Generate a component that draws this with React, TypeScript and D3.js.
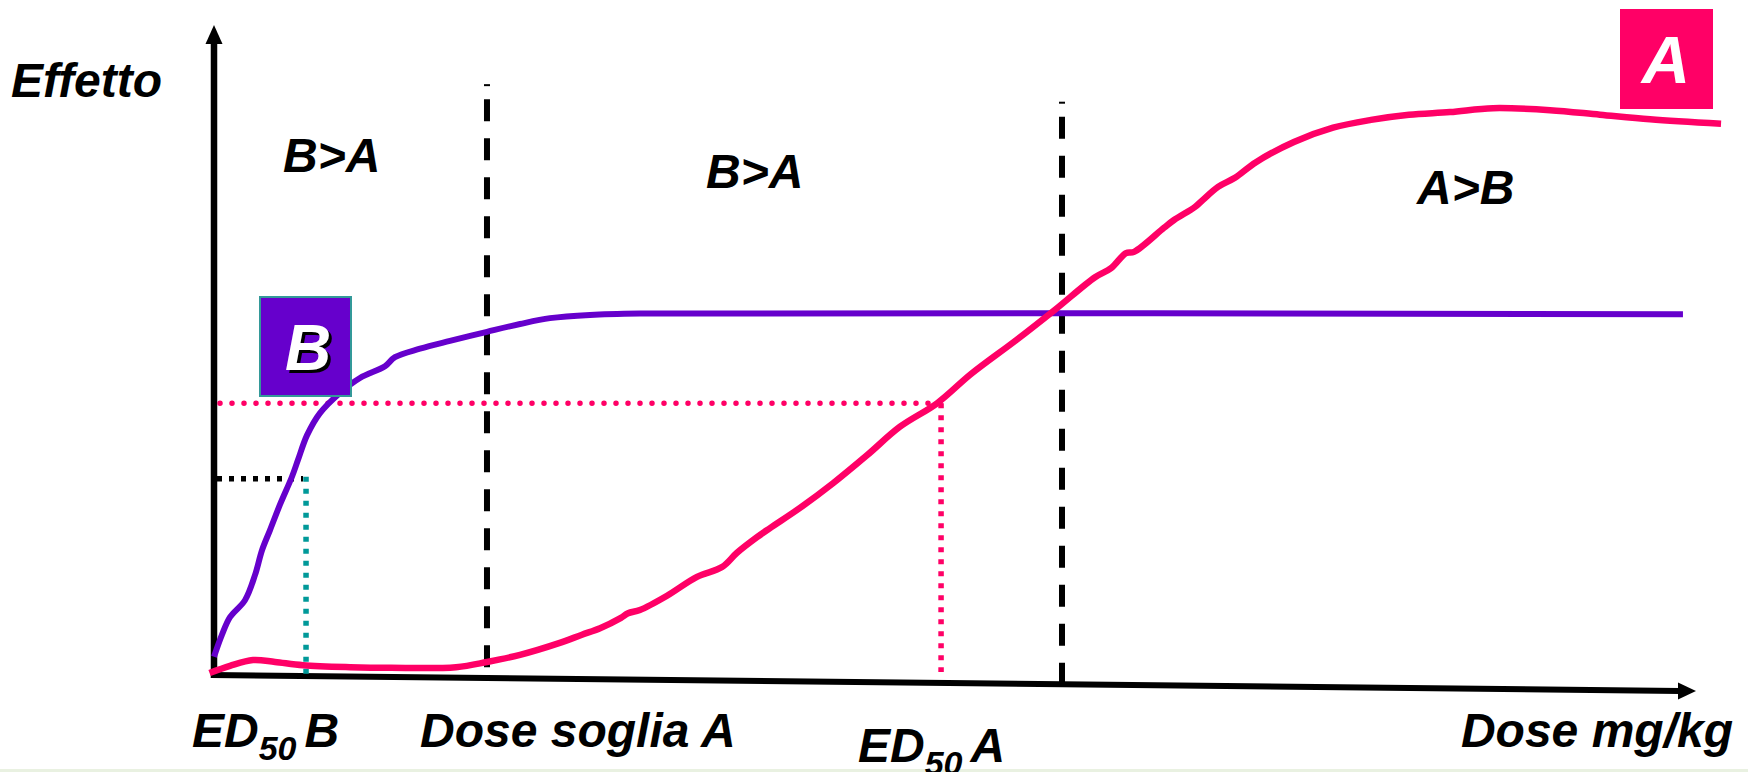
import React from 'react';
import * as d3 from 'd3';

// dose (0-100 along the x axis) vs effect (0-100 along the y axis)
const curveB: Array<[number, number]> = [
  [0, 2.8], [0.54, 6.2], [1.08, 8.9], [2.09, 11.5], [2.77, 15.4], [3.24, 19.2],
  [3.78, 22.3], [4.45, 26.2], [5.26, 30.5], [5.67, 33.1], [6.28, 36.9], [7.15, 40.3],
  [8.5, 43.4], [9.85, 45.7], [11.54, 47.5], [12.21, 48.9], [13.9, 50.2], [15.92, 51.4],
  [18.42, 52.8], [20.65, 54.0], [22.67, 54.9], [25.37, 55.4], [28.74, 55.6], [99.12, 55.5],
];

const curveA: Array<[number, number]> = [
  [-0.3, 0.3], [1.08, 1.4], [2.63, 2.3], [4.12, 2.0], [6.01, 1.5], [9.18, 1.2],
  [11.94, 1.1], [16.33, 1.2], [18.42, 2.0], [20.65, 3.1], [23.28, 4.9], [24.83, 6.2],
  [26.05, 7.2], [27.46, 8.8], [27.94, 9.5], [28.74, 10.0], [30.57, 12.2], [32.59, 15.1],
  [34.28, 16.6], [35.29, 18.8], [36.64, 21.2], [37.52, 22.6], [39.54, 25.7], [41.77, 29.5],
  [44.06, 33.8], [46.29, 38.2], [48.79, 41.8], [51.08, 46.3], [54.12, 51.5], [56.75, 56.2],
  [59.45, 61.2], [60.53, 62.6], [61.54, 64.9], [62.08, 65.1], [64.1, 68.8], [64.78, 70.0],
  [66.19, 72.0], [66.73, 73.1], [67.75, 75.1], [68.89, 76.5], [70.31, 78.9], [72.87, 82.0],
  [75.51, 84.2], [78.07, 85.4], [80.63, 86.2], [83.4, 86.6], [86.3, 87.2], [90.15, 86.9],
  [93.52, 86.2], [96.9, 85.5], [101.69, 84.8],
];

// vertical dashed separators: [dose, top effect, bottom effect]
const separators: Array<[number, number, number]> = [
  [18.42, 90.9, 0],
  [57.22, 88.2, -2.6],
];

const ed50B: [number, number] = [6.21, 30.2];
const ed50A: [number, number] = [49.06, 41.8];

const regionLabels = [
  { text: 'B>A', x: 283, y: 172 },
  { text: 'B>A', x: 706, y: 188 },
  { text: 'A>B', x: 1417, y: 204 },
];

const RED = '#FF0066';
const PURPLE = '#6600CC';
const TEAL = '#009999';
const FONT = '"Liberation Sans", Arial, sans-serif';

export default function App() {
  const width = 1748;
  const height = 772;

  const x = d3.scaleLinear().domain([0, 100]).range([214, 1696]);
  const y = d3.scaleLinear().domain([0, 100]).range([675, 25]);

  const line = d3
    .line<[number, number]>()
    .x((d) => x(d[0]))
    .y((d) => y(d[1]))
    .curve(d3.curveCatmullRom.alpha(0.5));

  const textStyle = {
    fontFamily: FONT,
    fontWeight: 'bold' as const,
    fontStyle: 'italic' as const,
  };

  return (
    <svg
      width={width}
      height={height}
      style={{ position: 'absolute', left: 0, top: 0, background: '#fff' }}
    >
      <rect x={0} y={769} width={width} height={3} fill="#E9F1E1" />

      {/* axes */}
      <line x1={x(0)} y1={y(0) + 3} x2={x(0)} y2={42} stroke="#000" strokeWidth={6.5} />
      <path d={`M${x(0)},25 L${x(0) - 8.5},44 L${x(0) + 8.5},44 Z`} fill="#000" />
      <line x1={x(0) - 3} y1={y(0)} x2={x(100) - 16} y2={y(0) + 16} stroke="#000" strokeWidth={6} />
      <path
        d={`M${x(100)},${y(0) + 16} L${x(100) - 18},${y(0) + 7.5} L${x(100) - 18},${y(0) + 24.5} Z`}
        fill="#000"
      />

      {/* dashed separators */}
      {separators.map(([d, top, bottom], i) => (
        <g key={i}>
          <line
            x1={x(d)} y1={y(top)} x2={x(d)} y2={y(top) + 2}
            stroke="#000" strokeWidth={6}
          />
          <line
            x1={x(d)} y1={y(top) + 15} x2={x(d)} y2={y(bottom)}
            stroke="#000" strokeWidth={6} strokeDasharray="22 17"
          />
        </g>
      ))}

      {/* ED50 guides */}
      <line
        x1={x(0) + 6} y1={y(ed50A[1])} x2={x(ed50A[0])} y2={y(ed50A[1])}
        stroke={RED} strokeWidth={5.5} strokeLinecap="round" strokeDasharray="0 12"
      />
      <line
        x1={x(ed50A[0])} y1={y(ed50A[1])} x2={x(ed50A[0])} y2={y(0) - 3}
        stroke={RED} strokeWidth={5.5} strokeDasharray="5 7"
      />
      <line
        x1={x(0) + 3} y1={y(ed50B[1])} x2={x(ed50B[0]) - 3} y2={y(ed50B[1])}
        stroke="#000" strokeWidth={5.5} strokeDasharray="5 7"
      />
      <line
        x1={x(ed50B[0])} y1={y(ed50B[1]) - 2} x2={x(ed50B[0])} y2={y(0)}
        stroke={TEAL} strokeWidth={5.5} strokeDasharray="5 7"
      />

      {/* curves */}
      <path d={line(curveB) || ''} fill="none" stroke={PURPLE} strokeWidth={6} strokeLinejoin="round" />
      <path d={line(curveA) || ''} fill="none" stroke={RED} strokeWidth={6.5} strokeLinejoin="round" />

      {/* B badge */}
      <rect x={260} y={297} width={91} height={99} fill={PURPLE} stroke="#339999" strokeWidth={2} />
      <text x={311} y={373} textAnchor="middle" fontSize={64} fill="#000" {...textStyle}>B</text>
      <text x={308} y={370} textAnchor="middle" fontSize={64} fill="#fff" {...textStyle}>B</text>

      {/* A badge */}
      <rect x={1620} y={9} width={93} height={100} fill={RED} />
      <text x={1666} y={83} textAnchor="middle" fontSize={67} fill="#fff" {...textStyle}>A</text>

      {/* titles */}
      <text x={11} y={97} fontSize={48} fill="#000" {...textStyle}>Effetto</text>
      {regionLabels.map((l, i) => (
        <text key={i} x={l.x} y={l.y} fontSize={48} fill="#000" {...textStyle}>{l.text}</text>
      ))}

      <text x={192} y={747} fontSize={48} fill="#000" {...textStyle}>
        ED<tspan fontSize={34} dy={13}>50</tspan>
        <tspan dy={-13} dx={8}>B</tspan>
      </text>
      <text x={420} y={747} fontSize={48} fill="#000" {...textStyle}>Dose soglia A</text>
      <text x={858} y={762} fontSize={48} fill="#000" {...textStyle}>
        ED<tspan fontSize={34} dy={13}>50</tspan>
        <tspan dy={-13} dx={8}>A</tspan>
      </text>
      <text x={1733} y={747} textAnchor="end" fontSize={48} fill="#000" {...textStyle}>Dose mg/kg</text>
    </svg>
  );
}
